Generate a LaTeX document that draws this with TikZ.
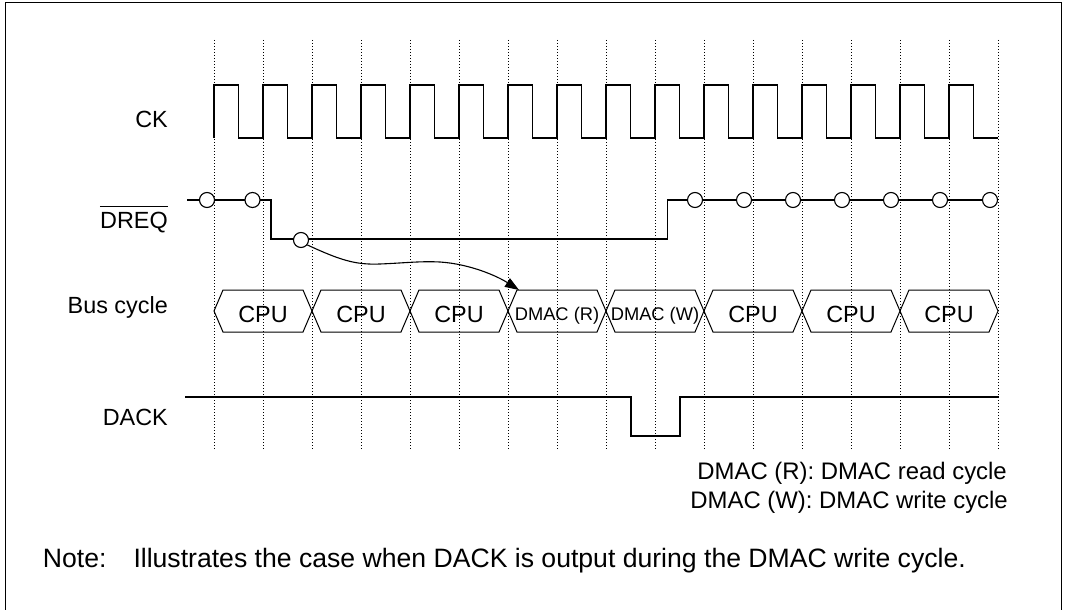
\documentclass[tikz,border=0pt]{standalone}
\usepackage{fontspec}
\setmainfont{Liberation Sans}
\usetikzlibrary{arrows.meta}
\begin{document}
\begin{tikzpicture}[x=1pt,y=-1pt,
  sig/.style={line width=1.2pt, line join=miter},
  gridline/.style={line width=0.7pt, dash pattern=on 0.8pt off 2.2pt},
  lbl/.style={anchor=base east, inner sep=0pt, font=\fontsize{23.4}{28}\selectfont},
  txt/.style={inner sep=0pt, font=\fontsize{23.9}{28}\selectfont},
  notetxt/.style={inner sep=0pt, font=\fontsize{26.6}{30}\selectfont},
  cyctxt/.style={anchor=base, inner sep=0pt, font=\fontsize{23.4}{28}\selectfont},
  dmtxt/.style={anchor=base, inner sep=0pt, font=\fontsize{18.3}{22}\selectfont},
  cyc/.style={line width=1pt, line join=miter},
  pin/.style={circle, draw, fill=white, line width=1.1pt, minimum size=15pt, inner sep=0pt}]
\useasboundingbox (0,0) rectangle (1071,610);
% frame
\draw[line width=1pt] (5,615) -- (5,3) -- (1061,3) -- (1061,615);
% dotted grid
\foreach \k in {0,...,16} \draw[gridline] ({214+49*\k},40) -- ({214+49*\k},450);
% labels
\node[lbl] (lck) at (168,127) {CK};
\node[lbl] (ldreq) at (168,228) {DREQ};
\draw[line width=1pt] ([yshift=4.5pt]ldreq.north west) -- ([yshift=4.5pt]ldreq.north east);
\node[lbl] (lbus) at (168,313) {Bus cycle};
\node[lbl] (ldack) at (168,425.7) {DACK};
% CK
\draw[sig] (214,138) \foreach \k in {0,...,15}{ -- ({214+49*\k},138) -- ({214+49*\k},85) -- ({238.5+49*\k},85) -- ({238.5+49*\k},138)} -- (998,138);
% DREQ
\draw[sig] (187,200) -- (271,200) -- (271,239) -- (667.5,239) -- (667.5,200) -- (998,200);
\node[pin] (c1) at (207,200) {};
\node[pin] (c2) at (252.5,200) {};
\node[pin] (c3) at (301,240) {};
\foreach \x [count=\n from 4] in {695,744,793,842,891,940,990}
  \node[pin] (c\n) at (\x,200) {};
% Bus cycles
\foreach \i in {0,...,7}{
  \draw[cyc] ({214+98*\i},311) -- ({223+98*\i},290) -- ({303+98*\i},290) -- ({312+98*\i},311) -- ({303+98*\i},332) -- ({223+98*\i},332) -- cycle;
}
\foreach \i in {0,1,2,5,6,7}
  \node[cyctxt] (cpu\i) at ({263+98*\i},322) {CPU};
\node[dmtxt] (dmr) at (557,320) {DMAC (R)};
\node[dmtxt] (dmw) at (655,320) {DMAC (W)};
% arrow
\coordinate (tip) at (519,290);
\draw[line width=1.1pt, -{Triangle[length=14pt,width=10pt]}] (c3.-38) .. controls (340,260) and (355,265) .. (380,264) .. controls (405,263) and (420,261) .. (440,262) .. controls (470,264) and (497,276) .. (tip);
% DACK
\draw[sig] (185,397) -- (631,397) -- (631,436) -- (680,436) -- (680,397) -- (999,397);
% notes
\node[txt, anchor=base east] (n1) at (1007,479) {DMAC (R): DMAC read cycle};
\node[txt, anchor=base east] (n2) at (1008,508) {DMAC (W): DMAC write cycle};
\node[notetxt, anchor=base west] (nn) at (42.7,567) {Note:};
\node[notetxt, anchor=base west] (nt) at (133.3,567) {Illustrates the case when DACK is output during the DMAC write cycle.};
\end{tikzpicture}
\end{document}
